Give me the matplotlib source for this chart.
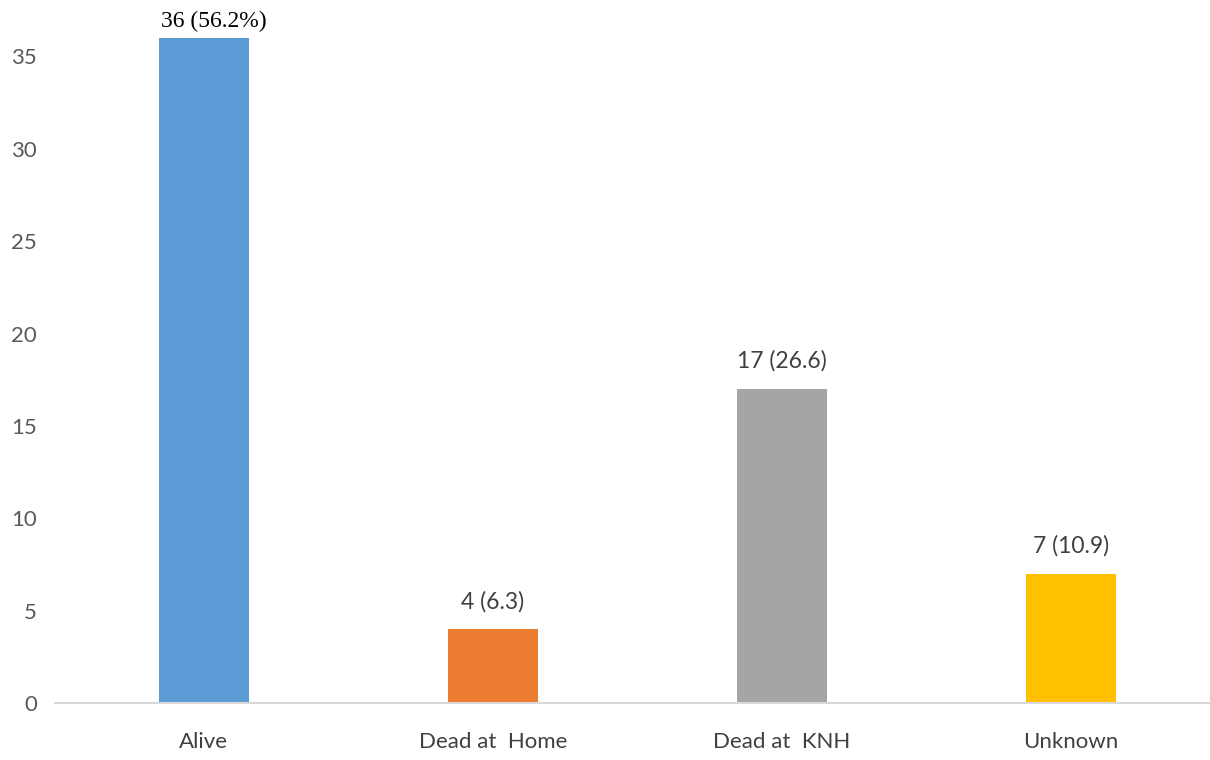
import matplotlib
matplotlib.use("Agg")
import matplotlib.pyplot as plt

categories = ["Alive", "Dead at  Home", "Dead at  KNH", "Unknown"]
counts = [36, 4, 17, 7]
value_labels = ["36 (56.2%)", "4 (6.3)", "17 (26.6)", "7 (10.9)"]
bar_colors = ["#5b9bd5", "#ed7d31", "#a5a5a5", "#ffc000"]
y_ticks = [0, 5, 10, 15, 20, 25, 30, 35]

fig = plt.figure(figsize=(12.1, 7.6), dpi=100)
ax = fig.add_axes([55 / 1210, 1 - 703 / 760, 1 - 55 / 1210, (703 - 38) / 760])

x = list(range(len(categories)))
bars = ax.bar(x, counts, width=0.31, color=bar_colors, zorder=2)

ax.set_xlim(-0.515, 3.48)
ax.set_ylim(0, 36)
ax.set_yticks(y_ticks)
ax.set_xticks(x)
ax.set_xticklabels(categories, fontfamily="Lato", fontsize=16, color="#404040")
for lbl in ax.get_yticklabels():
    lbl.set_fontfamily("Lato")
    lbl.set_fontsize(16)
    lbl.set_color("#595959")
ax.tick_params(axis="both", length=0)
ax.tick_params(axis="x", pad=21)
ax.tick_params(axis="y", pad=13)

for side in ["top", "right", "left"]:
    ax.spines[side].set_visible(False)
ax.spines["bottom"].set_color("#d9d9d9")
ax.spines["bottom"].set_linewidth(1.5)

for i, (v, txt) in enumerate(zip(counts, value_labels)):
    if i == 0:
        ax.annotate(txt, (i, v), xytext=(7, 12), textcoords="offset points",
                    ha="center", va="center", fontsize=17,
                    fontfamily="Liberation Serif", color="black",
                    annotation_clip=False)
    else:
        ax.annotate(txt, (i, v), xytext=(0, 20), textcoords="offset points",
                    ha="center", va="center", fontsize=16.5,
                    fontfamily="Lato", color="#404040")

fig.savefig("out.png", dpi=100)
